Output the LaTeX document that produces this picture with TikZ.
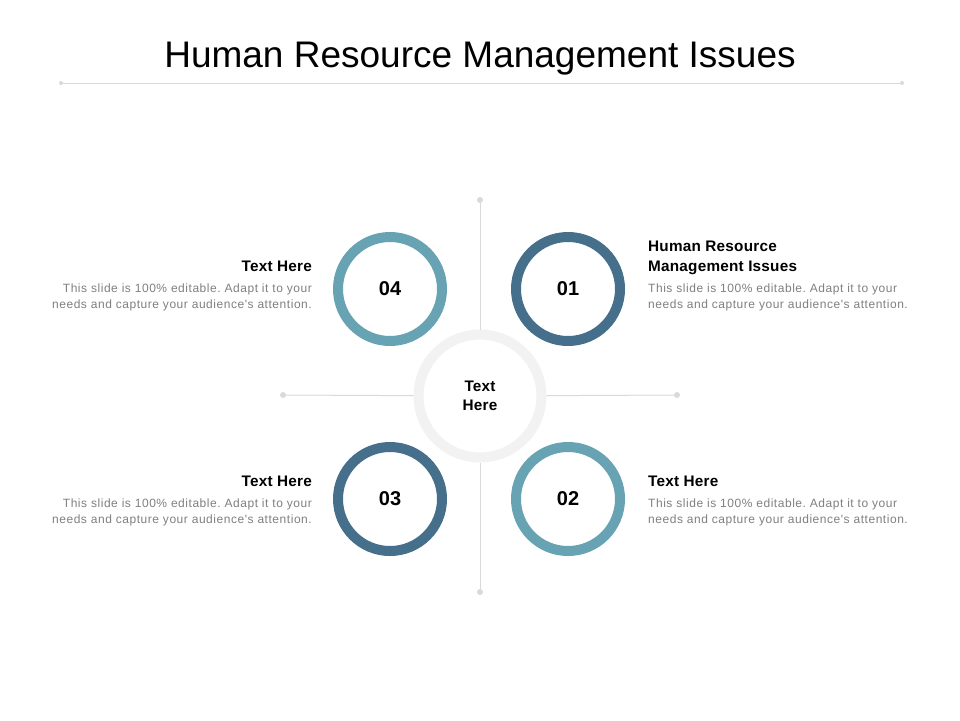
\documentclass[tikz,border=0pt]{standalone}
\usepackage{fontspec}
\setmainfont{Liberation Sans}
\newfontfamily\bodyfont[LetterSpace=4.5]{Liberation Sans}
\newfontfamily\headfont[LetterSpace=1.5]{Liberation Sans}
\frenchspacing
\definecolor{darkring}{HTML}{466F8B}
\definecolor{lightring}{HTML}{68A3B4}
\definecolor{linegray}{HTML}{D9D9D9}
\definecolor{centergray}{HTML}{F2F2F2}
\definecolor{bodygray}{HTML}{7F7F7F}
\tikzset{
  ring/.style={circle, draw=#1, line width=10pt, minimum size=104pt, inner sep=0pt, fill=white,
    font=\fontsize{20}{24}\selectfont\bfseries},
  hub/.style={circle, draw=centergray, line width=10pt, minimum size=123pt, inner sep=0pt, fill=white,
    align=center, font=\headfont\fontsize{15.3}{19}\selectfont\bfseries},
  dotnode/.style={circle, fill=linegray, inner sep=0pt, minimum size=6pt},
  smalldot/.style={circle, fill=linegray, inner sep=0pt, minimum size=4pt},
  conn/.style={draw=linegray, line width=1pt},
  headR/.style={anchor=base west, inner sep=0pt, align=left, font=\headfont\fontsize{15.3}{20}\selectfont\bfseries},
  headL/.style={anchor=base east, inner sep=0pt, align=right, font=\headfont\fontsize{15.3}{20}\selectfont\bfseries},
  bodyR/.style={anchor=base west, inner sep=0pt, align=left, text=bodygray, font=\bodyfont\frenchspacing\fontsize{12}{16}\selectfont},
  bodyL/.style={anchor=base east, inner sep=0pt, align=right, text=bodygray, font=\bodyfont\frenchspacing\fontsize{12}{16}\selectfont},
}
\begin{document}
\begin{tikzpicture}[x=1pt,y=-1pt]
\useasboundingbox (0,0) rectangle (960,720);
% title
\node[anchor=base, inner sep=0pt, font=\fontsize{37}{40}\selectfont] (title) at (480,67) {Human Resource Management Issues};
\node[smalldot] (tl) at (61,83) {};
\node[smalldot] (tr) at (902,83) {};
\draw[conn] (tl) -- (tr);
% dots and connectors
\node[dotnode] (dtop) at (480,200) {};
\node[dotnode] (dbot) at (480,592) {};
\node[dotnode] (dleft) at (283,395) {};
\node[dotnode] (dright) at (677,395) {};
\node[hub] (hub) at (480,396) {Text\\Here};
\draw[conn] (dtop) -- (hub);
\draw[conn] (dbot) -- (hub);
\draw[conn] (dleft) -- (hub);
\draw[conn] (dright) -- (hub);
% rings
\node[ring=darkring] (c1) at (568,289) {01};
\node[ring=lightring] (c2) at (568,499) {02};
\node[ring=darkring] (c3) at (390,499) {03};
\node[ring=lightring] (c4) at (390,289) {04};
% texts right
\node[headR] (h1) at (648,271) {Human Resource\\Management Issues};
\node[bodyR] (b1) at (648,308) {This slide is 100\% editable. Adapt it to your\\needs and capture your audience's attention.};
\node[headR] (h2) at (648,486) {Text Here};
\node[bodyR] (b2) at (648,523) {This slide is 100\% editable. Adapt it to your\\needs and capture your audience's attention.};
% texts left
\node[headL] (h4) at (312,271) {Text Here};
\node[bodyL] (b4) at (312,308) {This slide is 100\% editable. Adapt it to your\\needs and capture your audience's attention.};
\node[headL] (h3) at (312,486) {Text Here};
\node[bodyL] (b3) at (312,523) {This slide is 100\% editable. Adapt it to your\\needs and capture your audience's attention.};
\end{tikzpicture}
\end{document}
